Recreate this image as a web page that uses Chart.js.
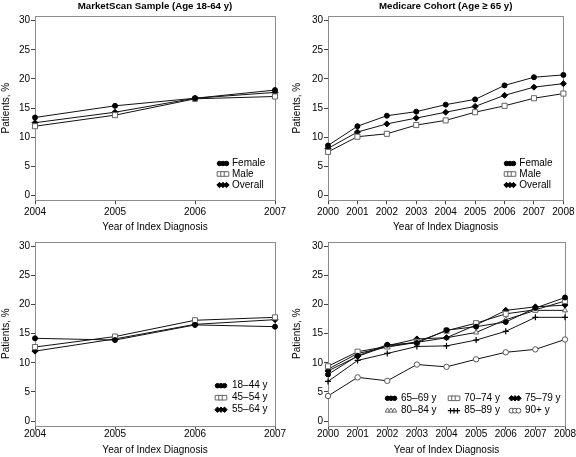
<!DOCTYPE html>
<html>
<head>
<meta charset="utf-8">
<script src="https://cdn.jsdelivr.net/npm/chart.js@4.4.1/dist/chart.umd.min.js"></script>
<style>
  html, body { margin: 0; padding: 0; background: #fff; }
  body { width: 576px; height: 457px; position: relative; overflow: hidden; }
  .panel { position: absolute; }
  canvas { display: block; }
</style>
</head>
<body>
<div class="panel" style="left:0;top:0;width:288px;height:233px"><canvas id="c1" width="288" height="233"></canvas></div>
<div class="panel" style="left:288px;top:0;width:288px;height:233px"><canvas id="c2" width="288" height="233"></canvas></div>
<div class="panel" style="left:0;top:233px;width:288px;height:224px"><canvas id="c3" width="288" height="224"></canvas></div>
<div class="panel" style="left:288px;top:233px;width:288px;height:224px"><canvas id="c4" width="288" height="224"></canvas></div>
<script>
// ---------------- DATA ----------------
const yearsMarketScan = ['2004', '2005', '2006', '2007'];
const yearsMedicare = ['2000', '2001', '2002', '2003', '2004', '2005', '2006', '2007', '2008'];
const yTickValues = [0, 5, 10, 15, 20, 25, 30];

const titleMarketScan = 'MarketScan Sample (Age 18-64 y)';
const titleMedicare = 'Medicare Cohort (Age \u2265 65 y)';
const xAxisTitle = 'Year of Index Diagnosis';
const yAxisTitle = 'Patients, %';

// MarketScan by sex
const msFemale  = [13.4, 15.4, 16.7, 18.1];
const msMale    = [11.9, 13.8, 16.6, 17.0];
const msOverall = [12.5, 14.3, 16.7, 17.7];

// Medicare by sex
const mcFemale  = [8.6, 11.9, 13.7, 14.4, 15.6, 16.5, 18.9, 20.3, 20.7];
const mcMale    = [7.5, 10.1, 10.6, 12.1, 12.9, 14.3, 15.4, 16.7, 17.5];
const mcOverall = [8.1, 10.9, 12.3, 13.3, 14.3, 15.3, 17.2, 18.6, 19.2];

// MarketScan by age
const msAge18to44 = [14.2, 13.9, 16.5, 16.2];
const msAge45to54 = [12.7, 14.5, 17.3, 17.8];
const msAge55to64 = [12.0, 14.1, 16.6, 17.4];

// Medicare by age
const mcAge65to69 = [8.0, 11.2, 13.1, 13.4, 15.6, 16.2, 17.0, 19.4, 21.2];
const mcAge70to74 = [9.4, 11.9, 12.8, 13.6, 15.5, 16.8, 18.4, 19.1, 20.6];
const mcAge75to79 = [8.6, 11.1, 12.9, 14.1, 14.3, 16.5, 19.0, 19.6, 19.9];
const mcAge80to84 = [8.9, 11.6, 12.7, 13.5, 14.3, 15.2, 17.4, 19.0, 19.0];
const mcAge85to89 = [6.8, 10.4, 11.6, 12.8, 12.9, 13.9, 15.4, 17.8, 17.8];
const mcAge90plus = [4.3, 7.5, 6.9, 9.7, 9.3, 10.6, 11.8, 12.3, 14.0];

const sexLabels = ['Female', 'Male', 'Overall'];
const msAgeLabels = ['18\u201344 y', '45\u201354 y', '55\u201364 y'];
const mcAgeLabels = ['65\u201369 y', '70\u201374 y', '75\u201379 y', '80\u201384 y', '85\u201389 y', '90+ y'];

// ---------------- STYLE ----------------
const FONT = '"Liberation Sans", Arial, Helvetica, sans-serif';
const TEXT = '#000';
Chart.defaults.font.family = FONT;
Chart.defaults.font.size = 10;
Chart.defaults.color = TEXT;

const M = {
  filledCircle: { pointStyle: 'circle', pointRadius: 2.5, pointBackgroundColor: '#000', pointBorderColor: '#000', pointBorderWidth: 1 },
  openSquare:   { pointStyle: 'rect', pointRadius: 3.6, pointBackgroundColor: '#fff', pointBorderColor: '#666', pointBorderWidth: 1 },
  diamond:      { pointStyle: 'rectRot', pointRadius: 3.0, pointBackgroundColor: '#000', pointBorderColor: '#000', pointBorderWidth: 1 },
  openTriangle: { pointStyle: 'triangle', pointRadius: 3.0, pointBackgroundColor: '#fff', pointBorderColor: '#666', pointBorderWidth: 1 },
  plus:         { pointStyle: 'cross', pointRadius: 3.0, pointBackgroundColor: '#000', pointBorderColor: '#000', pointBorderWidth: 1.2 },
  openCircle:   { pointStyle: 'circle', pointRadius: 2.7, pointBackgroundColor: '#fff', pointBorderColor: '#555', pointBorderWidth: 1 }
};

function ds(label, data, marker) {
  return Object.assign({
    label: label, data: data,
    borderColor: '#111', borderWidth: 1, tension: 0, fill: false,
    pointHoverRadius: 3, clip: false
  }, marker);
}

// frame around plot region (R-style box)
const framePlugin = {
  id: 'frame',
  beforeDatasetsDraw(chart) {
    const a = chart.chartArea, ctx = chart.ctx;
    ctx.save();
    ctx.strokeStyle = '#8c8c8c';
    ctx.lineWidth = 1;
    ctx.strokeRect(Math.round(a.left) + 0.5, Math.round(a.top) + 0.5,
                   Math.round(a.right - a.left), Math.round(a.bottom - a.top));
    ctx.restore();
  }
};

// panel title centred over the plot region
const panelTitle = {
  id: 'panelTitle',
  afterDraw(chart, args, opts) {
    if (!opts || !opts.text) return;
    const a = chart.chartArea, ctx = chart.ctx;
    ctx.save();
    ctx.fillStyle = TEXT;
    ctx.font = 'bold 9.7px ' + FONT;
    ctx.textAlign = 'center';
    ctx.textBaseline = 'middle';
    ctx.fillText(opts.text, (a.left + a.right) / 2, opts.y);
    ctx.restore();
  }
};

function drawMarker(ctx, d, x, y, scale) {
  ctx.fillStyle = d.pointBackgroundColor;
  ctx.strokeStyle = d.pointBorderColor;
  ctx.lineWidth = d.pointBorderWidth;
  Chart.helpers.drawPoint(ctx, { pointStyle: d.pointStyle, radius: d.pointRadius * scale, rotation: 0, borderWidth: d.pointBorderWidth }, x, y);
}

// legend drawn inside plot area, bottom-right (R style)
const insideLegend = {
  id: 'insideLegend',
  afterDatasetsDraw(chart, args, opts) {
    if (!opts || !opts.items) return;
    const ctx = chart.ctx;
    ctx.save();
    opts.items.forEach((it, i) => {
      const d = chart.data.datasets[i];
      [-3.5, 0, 3.5].forEach(dx => drawMarker(ctx, d, it.sx + dx, it.y, 0.9));
      ctx.fillStyle = TEXT;
      ctx.font = '10px ' + FONT;
      ctx.textAlign = 'left';
      ctx.textBaseline = 'middle';
      ctx.fillText(d.label, it.tx, it.y);
    });
    ctx.restore();
  }
};

function makeChart(id, labels, datasets, L) {
  return new Chart(document.getElementById(id), {
    type: 'line',
    data: { labels: labels, datasets: datasets },
    plugins: [framePlugin, insideLegend, panelTitle],
    options: {
      responsive: false,
      animation: false,
      events: [],
      layout: { padding: L.padding },
      plugins: {
        legend: { display: false },
        tooltip: { enabled: false },
        title: { display: false },
        panelTitle: { text: L.title, y: 6.7 },
        insideLegend: { items: L.legend }
      },
      scales: {
        x: {
          type: 'category',
          offset: false,
          grid: { display: true, drawOnChartArea: false, drawTicks: true, tickLength: 4, color: '#444', lineWidth: 1 },
          border: { display: false },
          ticks: { autoSkip: false, maxRotation: 0, padding: L.xPad, color: TEXT, font: { size: 10 } },
          title: { display: true, text: xAxisTitle, color: TEXT, font: { size: 10 }, padding: { top: 0, bottom: 0 } },
          afterFit(s) { s.height = L.xHeight; }
        },
        y: {
          type: 'linear',
          min: -0.8, max: 30.8,
          afterBuildTicks(s) { s.ticks = yTickValues.map(v => ({ value: v })); },
          grid: { display: true, drawOnChartArea: false, drawTicks: true, tickLength: 4, color: '#444', lineWidth: 1 },
          border: { display: false },
          ticks: { padding: 1, color: TEXT, font: { size: 10 }, callback: v => String(v) },
          title: { display: true, text: yAxisTitle, color: TEXT, font: { size: 10 }, padding: { top: 0, bottom: 0 } },
          afterFit(s) { s.width = L.yWidth; }
        }
      }
    }
  });
}

makeChart('c1', yearsMarketScan, [
  ds(sexLabels[0], msFemale, M.filledCircle),
  ds(sexLabels[1], msMale, M.openSquare),
  ds(sexLabels[2], msOverall, M.diamond)
], {
  title: titleMarketScan,
  padding: { left: 0, top: 16, right: 13, bottom: 0 },
  yWidth: 35, xHeight: 32.7, xPad: 1.5,
  legend: [{ sx: 223, tx: 232, y: 163.5 }, { sx: 223, tx: 232, y: 174 }, { sx: 223, tx: 232, y: 185 }]
});

makeChart('c2', yearsMedicare, [
  ds(sexLabels[0], mcFemale, M.filledCircle),
  ds(sexLabels[1], mcMale, M.openSquare),
  ds(sexLabels[2], mcOverall, M.diamond)
], {
  title: titleMedicare,
  padding: { left: 3.7, top: 16, right: 11, bottom: 0 },
  yWidth: 36.3, xHeight: 32.7, xPad: 1.5,
  legend: [{ sx: 222, tx: 231.3, y: 163.5 }, { sx: 222, tx: 231.3, y: 174 }, { sx: 222, tx: 231.3, y: 185 }]
});

makeChart('c3', yearsMarketScan, [
  ds(msAgeLabels[0], msAge18to44, M.filledCircle),
  ds(msAgeLabels[1], msAge45to54, M.openSquare),
  ds(msAgeLabels[2], msAge55to64, M.diamond)
], {
  title: null,
  padding: { left: 0, top: 8.6, right: 13, bottom: 1 },
  yWidth: 35, xHeight: 30.3, xPad: -1,
  legend: [{ sx: 221, tx: 232, y: 152.7 }, { sx: 221, tx: 232, y: 164.7 }, { sx: 221, tx: 232, y: 176.7 }]
});

makeChart('c4', yearsMedicare, [
  ds(mcAgeLabels[0], mcAge65to69, M.filledCircle),
  ds(mcAgeLabels[1], mcAge70to74, M.openSquare),
  ds(mcAgeLabels[2], mcAge75to79, M.diamond),
  ds(mcAgeLabels[3], mcAge80to84, M.openTriangle),
  ds(mcAgeLabels[4], mcAge85to89, M.plus),
  ds(mcAgeLabels[5], mcAge90plus, M.openCircle)
], {
  title: null,
  padding: { left: 3.7, top: 8.6, right: 11, bottom: 1 },
  yWidth: 36.3, xHeight: 30.3, xPad: -1,
  legend: [
    { sx: 103, tx: 113, y: 165.3 }, { sx: 166, tx: 176.3, y: 165.3 }, { sx: 227, tx: 237, y: 165.3 },
    { sx: 103, tx: 113, y: 177.7 }, { sx: 166, tx: 176.3, y: 177.7 }, { sx: 227, tx: 237, y: 177.7 }
  ]
});
</script>
</body>
</html>
